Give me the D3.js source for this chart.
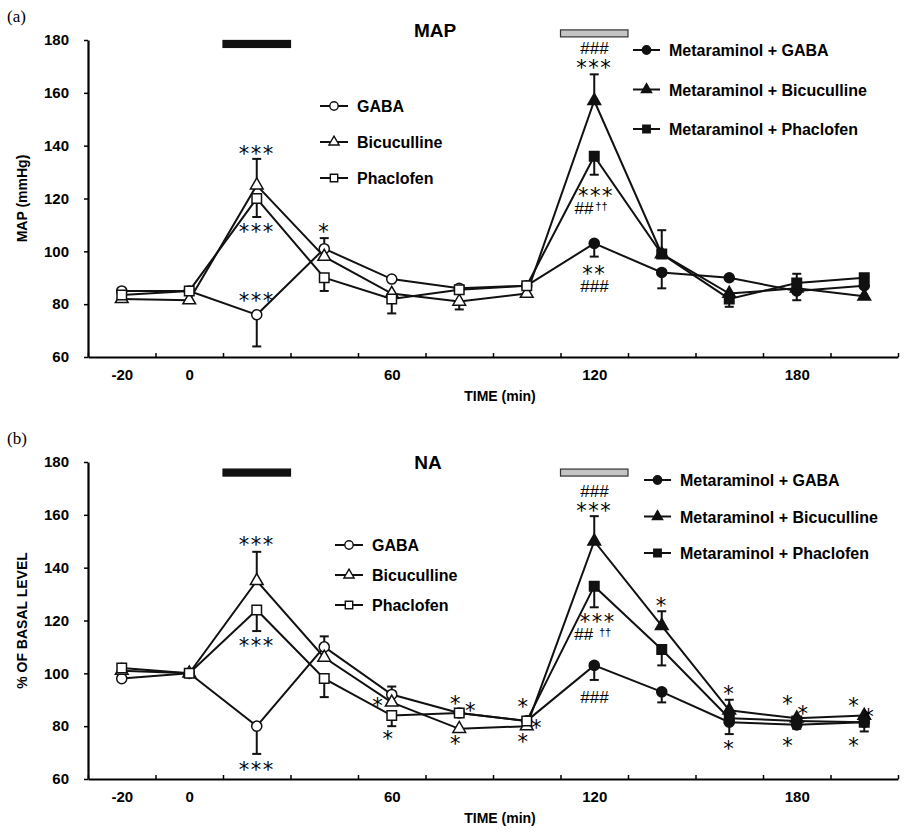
<!DOCTYPE html>
<html>
<head>
<meta charset="utf-8">
<script src="https://cdn.jsdelivr.net/npm/d3@7"></script>
<style>
  body { margin: 0; background: #fff; }
  text { font-family: "Liberation Sans", Arial, sans-serif; }
</style>
</head>
<body>
<svg id="chart" width="910" height="836"></svg>
<script>
// time points (min)
const times = [-20, 0, 20, 40, 60, 80, 100];
const metTimes = [100, 120, 140, 160, 180, 200];
const yTicks = [60, 80, 100, 120, 140, 160, 180];
const xMinorTicks = [-30, -10, 10, 30, 50, 70, 90, 110, 130, 150, 170, 190, 210];
const xTickLabels = [-20, 0, 60, 120, 180];
const openNames = ["GABA", "Bicuculline", "Phaclofen"];
const metNames = ["Metaraminol + GABA", "Metaraminol + Bicuculline", "Metaraminol + Phaclofen"];
const drugBars = [[10, 30], [110, 130]];

// (a) MAP, mmHg. err: signed length of the drawn error bar (+ up, - down)
const mapGaba = [85, 85, 76, 101, 89.5, 86, 87];
const mapGabaErr = [0, 0, -12, 4, 0, 0, 0];
const mapBic = [82, 81.5, 125, 98, 84, 81, 84];
const mapBicErr = [0, 0, 10, 0, 0, -3, 0];
const mapPhac = [83.5, 85, 120, 90, 82, 85.5, 87];
const mapPhacErr = [0, 0, -7, -5, -5.5, 0, 0];
const mapMetGaba = [87, 103, 92, 90, 85, 87];
const mapMetGabaErr = [0, -5, -6, 0, -3.5, 0];
const mapMetBic = [84, 157, 99, 84, 86, 83];
const mapMetBicErr = [0, 10, 0, 0, 0, 0];
const mapMetPhac = [87, 136, 99, 82, 88, 90];
const mapMetPhacErr = [0, -7, 9, -3, 3.5, 0];
// significance marks; "|" stacks a second line below the first
const mapNoteX = [20, 20, 20, 40, 120, 120.5, 120];
const mapNoteY = [138.5, 109, 82.7, 108.8, 177, 122.5, 93];
const mapNoteText = ["***", "***", "***", "*", "###|***", "***|##††", "**|###"];
const mapBarLevel = [178.5, 182.5];

// (b) NA, % of basal level
const naGaba = [98, 100, 80, 110, 92, 85, 82];
const naGabaErr = [0, 0, -10.5, 4, 3, 0, 0];
const naBic = [101, 100, 135, 106, 89, 79, 80];
const naBicErr = [0, 0, 11, 0, 0, 0, 0];
const naPhac = [102, 100, 124, 98, 84, 85, 82];
const naPhacErr = [0, 0, -8, -7, -4, 0, 0];
const naMetGaba = [82, 103, 93, 81.5, 80.5, 81.5];
const naMetGabaErr = [0, -5.5, -4, 0, 0, 0];
const naMetBic = [80, 150, 118, 86, 83, 84];
const naMetBicErr = [0, 9.5, 5.5, 4, 0, 0];
const naMetPhac = [82, 133, 109, 83, 82, 81.5];
const naMetPhacErr = [0, -8, -6, -6, -3, -3.5];
const naNoteX = [20, 20, 20, 56, 59, 79, 83.5, 79, 99, 103, 99, 120, 121, 120, 140, 160, 160, 177.5, 182, 177.5, 197, 201.5, 197];
const naNoteY = [150, 112, 65, 89, 76.7, 90, 87.3, 74.8, 88.7, 80.8, 75.5, 169, 121, 91, 127, 93.6, 73, 90, 86, 74, 89, 85, 74];
const naNoteText = ["***", "***", "***", "*", "*", "*", "*", "*", "*", "*", "*", "###|***", "***|## ††", "###", "*", "*", "*", "*", "*", "*", "*", "*", "*"];
const naBarLevel = [176, 176];

const svg = d3.select("#chart");

function drawPanel(cfg) {
  const x = d3.scaleLinear().domain([-30, 210]).range([88, 898]);
  const y = d3.scaleLinear().domain([60, 180]).range([cfg.yBottom, cfg.yTop]);
  const g = svg.append("g");

  // panel letter
  g.append("text").attr("x", 7).attr("y", cfg.letterY)
    .style("font-family", "'Liberation Serif', serif").style("font-size", "17px")
    .text(cfg.letter);

  // y axis
  const ya = g.append("g").attr("transform", "translate(88,0)")
    .call(d3.axisLeft(y).tickValues(yTicks).tickSize(4).tickSizeOuter(0).tickPadding(15));
  ya.select(".domain").attr("stroke-width", 2.2);
  ya.selectAll(".tick line").attr("stroke-width", 1.5);
  ya.selectAll("text").style("font-size", "15px").style("font-weight", "bold")
    .style("font-family", "'Liberation Sans', Arial, sans-serif");

  // x axis: inward ticks between labels
  const xa = g.append("g").attr("transform", `translate(0,${cfg.yBottom})`)
    .call(d3.axisBottom(x).tickValues(xMinorTicks).tickSize(-4).tickSizeOuter(0).tickFormat(""));
  xa.select(".domain").attr("stroke-width", 2.2);
  xa.selectAll(".tick line").attr("stroke-width", 1.5);
  const xl = g.append("g").attr("transform", `translate(0,${cfg.yBottom})`)
    .call(d3.axisBottom(x).tickValues(xTickLabels).tickSize(0).tickPadding(12).tickFormat(d => String(d)));
  xl.select(".domain").remove();
  xl.selectAll("text").style("font-size", "15px").style("font-weight", "bold")
    .style("font-family", "'Liberation Sans', Arial, sans-serif");

  // axis titles
  g.append("text").attr("x", 500).attr("y", cfg.yBottom + 44)
    .attr("text-anchor", "middle").style("font-size", "14px").style("font-weight", "bold")
    .text("TIME (min)");
  g.append("text")
    .attr("transform", `translate(27,${(cfg.yTop + cfg.yBottom) / 2}) rotate(-90)`)
    .attr("text-anchor", "middle").style("font-size", "14px").style("font-weight", "bold")
    .text(cfg.yLabel);

  // panel title
  g.append("text").attr("x", cfg.titleX).attr("y", cfg.titleY)
    .attr("text-anchor", "middle").style("font-size", "19px").style("font-weight", "bold")
    .text(cfg.title);

  // drug application bars
  drugBars.forEach((b, i) => {
    g.append("rect")
      .attr("x", x(b[0])).attr("width", x(b[1]) - x(b[0]))
      .attr("y", y(cfg.barLevel[i]) - 3.5).attr("height", 7)
      .attr("fill", i === 0 ? "#111" : "#c4c4c4")
      .attr("stroke", i === 0 ? "#111" : "#333").attr("stroke-width", 1.2);
  });

  const line = d3.line().x(d => x(d.t)).y(d => y(d.v));

  // lines
  cfg.series.forEach(s => {
    const pts = s.t.map((t, i) => ({ t: t, v: s.v[i], e: s.e[i] }));
    s.pts = pts;
    g.append("path").datum(pts).attr("d", line)
      .attr("fill", "none").attr("stroke", "#111").attr("stroke-width", 2);
  });

  // error bars
  cfg.series.forEach(s => {
    s.pts.filter(d => d.e !== 0).forEach(d => {
      const y0 = y(d.v), y1 = y(d.v + d.e);
      g.append("line").attr("x1", x(d.t)).attr("x2", x(d.t)).attr("y1", y0).attr("y2", y1)
        .attr("stroke", "#111").attr("stroke-width", 2);
      g.append("line").attr("x1", x(d.t) - 4.5).attr("x2", x(d.t) + 4.5).attr("y1", y1).attr("y2", y1)
        .attr("stroke", "#111").attr("stroke-width", 2);
    });
  });

  // markers
  cfg.series.forEach(s => {
    g.selectAll(null).data(s.pts.filter(d => !(s.filled && d.t === 100))).enter()
      .append("path")
      .attr("transform", d => `translate(${x(d.t)},${y(d.v)})`)
      .attr("d", d3.symbol().type(s.shape).size(s.size))
      .attr("fill", s.filled ? "#111" : "#fff")
      .attr("stroke", "#111").attr("stroke-width", 1.5);
  });

  // significance marks (stacked lines share one text element)
  cfg.noteText.forEach((t, i) => {
    const cx = x(cfg.noteX[i]);
    const tx = g.append("text").attr("text-anchor", "middle").attr("fill", "#000");
    t.split("|").forEach((ln, k) => {
      const cy = y(cfg.noteY[i]) + k * 16;
      if (ln.indexOf("*") >= 0) {
        tx.append("tspan").attr("x", cx).attr("y", cy + 11)
          .style("font-family", "'DejaVu Sans', sans-serif").style("font-size", "21px")
          .style("letter-spacing", "1.5px").text(ln);
      } else {
        const hashes = ln.replace(/†/g, "").trimEnd();
        tx.append("tspan").attr("x", ln.indexOf("†") >= 0 ? cx - 5 : cx).attr("y", cy + 6)
          .style("font-size", "17px").style("font-style", "italic").text(hashes);
        if (ln.indexOf("†") >= 0) {
          tx.append("tspan").attr("dx", ln.indexOf(" ") > 0 ? 6 : 2).attr("dy", -4)
            .style("font-size", "11px").style("font-style", "normal").text("††");
        }
      }
    });
  });

  // legends
  function legend(names, shapes, filled, lx, ly, gap, lineW) {
    names.forEach((n, i) => {
      const cy = ly + i * gap;
      g.append("line").attr("x1", lx).attr("x2", lx + lineW).attr("y1", cy).attr("y2", cy)
        .attr("stroke", "#111").attr("stroke-width", 2);
      g.append("path").attr("transform", `translate(${lx + lineW / 2},${cy})`)
        .attr("d", d3.symbol().type(shapes[i]).size(shapes[i] === d3.symbolTriangle ? 45 : 55))
        .attr("fill", filled ? "#111" : "#fff").attr("stroke", "#111").attr("stroke-width", 1.4);
      g.append("text").attr("x", lx + lineW + 9).attr("y", cy + 6)
        .style("font-size", "16px").style("font-weight", "bold").text(n);
    });
  }
  const shapes = [d3.symbolCircle, d3.symbolTriangle, d3.symbolSquare];
  legend(openNames, shapes, false, cfg.legL[0], cfg.legL[1], cfg.legL[2], 28);
  legend(metNames, shapes, true, cfg.legR[0], cfg.legR[1], cfg.legR[2], 27);
}

function mkSeries(openV, openE, metV, metE) {
  const shapes = [d3.symbolCircle, d3.symbolTriangle, d3.symbolSquare];
  const sizes = [80, 70, 90];
  const out = [];
  openV.forEach((v, i) => out.push({ t: times, v: v, e: openE[i], shape: shapes[i], size: sizes[i], filled: false }));
  metV.forEach((v, i) => out.push({ t: metTimes, v: v, e: metE[i], shape: shapes[i], size: sizes[i], filled: true }));
  // draw filled series first so the open markers at 100 min stay on top
  return out.slice(3).concat(out.slice(0, 3));
}

drawPanel({
  letter: "(a)", letterY: 22, yTop: 40, yBottom: 357,
  title: "MAP", titleX: 435, titleY: 37, yLabel: "MAP (mmHg)",
  barLevel: mapBarLevel,
  series: mkSeries([mapGaba, mapBic, mapPhac], [mapGabaErr, mapBicErr, mapPhacErr],
    [mapMetGaba, mapMetBic, mapMetPhac], [mapMetGabaErr, mapMetBicErr, mapMetPhacErr]),
  noteX: mapNoteX, noteY: mapNoteY, noteText: mapNoteText,
  legL: [320, 106, 36], legR: [633, 50, 39.5]
});

drawPanel({
  letter: "(b)", letterY: 444, yTop: 462, yBottom: 779,
  title: "NA", titleX: 428, titleY: 469, yLabel: "% OF BASAL LEVEL",
  barLevel: naBarLevel,
  series: mkSeries([naGaba, naBic, naPhac], [naGabaErr, naBicErr, naPhacErr],
    [naMetGaba, naMetBic, naMetPhac], [naMetGabaErr, naMetBicErr, naMetPhacErr]),
  noteX: naNoteX, noteY: naNoteY, noteText: naNoteText,
  legL: [335, 545, 30], legR: [644, 480, 36.5]
});
</script>
</body>
</html>
